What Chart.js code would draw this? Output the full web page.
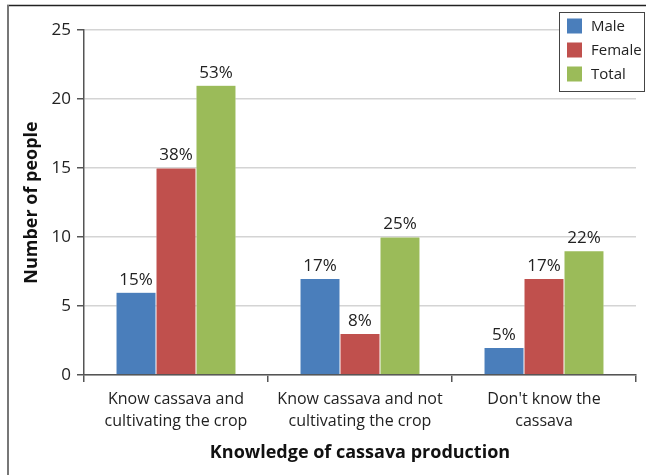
<!DOCTYPE html>
<html>
<head>
<meta charset="utf-8">
<script src="https://cdn.jsdelivr.net/npm/chart.js@4.4.1/dist/chart.umd.min.js"></script>
<style>
  html, body { margin: 0; padding: 0; background: #fff; }
  #wrap { position: relative; width: 646px; height: 475px; }
</style>
</head>
<body>
<div id="wrap"><canvas id="knowledgeChart" width="646" height="475"></canvas></div>
<script>
// Data
const categories = [
    ['Know cassava and', 'cultivating the crop'],
    ['Know cassava and not', 'cultivating the crop'],
    ["Don't know the", 'cassava']
];
const maleValues = [6, 7, 2];
const femaleValues = [15, 3, 7];
const totalValues = [21, 10, 9];
const malePercent = ['15%', '17%', '5%'];
const femalePercent = ['38%', '8%', '17%'];
const totalPercent = ['53%', '25%', '22%'];
const yTicks = [0, 5, 10, 15, 20, 25];

const FONT = "'Open Sans', 'DejaVu Sans', sans-serif";

// white background + the cropped frame lines (top and left)
const framePlugin = {
    id: 'frame',
    beforeDraw(chart) {
        const c = chart.ctx;
        c.save();
        c.fillStyle = '#fff';
        c.fillRect(0, 0, chart.width, chart.height);
        c.strokeStyle = '#222';
        c.lineWidth = 1.5;
        c.beginPath();
        c.moveTo(7, 5.5);
        c.lineTo(chart.width, 5.5);
        c.stroke();
        c.strokeStyle = '#777';
        c.lineWidth = 2;
        c.beginPath();
        c.moveTo(8, 5);
        c.lineTo(8, chart.height);
        c.stroke();
        c.restore();
    }
};

// percentage labels above each bar
const percentLabels = {
    id: 'percentLabels',
    afterDatasetsDraw(chart) {
        const c = chart.ctx;
        c.save();
        c.font = '17px ' + FONT;
        c.fillStyle = '#222';
        c.textAlign = 'center';
        c.textBaseline = 'bottom';
        chart.data.datasets.forEach((ds, i) => {
            chart.getDatasetMeta(i).data.forEach((bar, j) => {
                c.fillText(ds.percents[j], bar.x, bar.y - 4);
            });
        });
        c.restore();
    }
};

// boxed legend in the top-right corner
const boxLegend = {
    id: 'boxLegend',
    afterDraw(chart) {
        const c = chart.ctx;
        const x = 559, y = 12, w = 86, h = 80;
        c.save();
        c.fillStyle = '#fff';
        c.fillRect(x, y, w, h);
        c.strokeStyle = '#444';
        c.lineWidth = 1;
        c.strokeRect(x + 0.5, y + 0.5, w - 1, h - 1);
        c.font = '15px ' + FONT;
        c.textBaseline = 'middle';
        chart.data.datasets.forEach((ds, i) => {
            const cy = 26 + i * 24;
            c.fillStyle = ds.backgroundColor;
            c.fillRect(567, cy - 7.5, 15, 15);
            c.fillStyle = '#222';
            c.fillText(ds.label, 591, cy + 1);
        });
        c.restore();
    }
};

document.addEventListener('DOMContentLoaded', function() {
    const ctx = document.getElementById('knowledgeChart');
    new Chart(ctx, {
        type: 'bar',
        data: {
            labels: categories,
            datasets: [
                { label: 'Male', data: maleValues, percents: malePercent, backgroundColor: '#4a7ebb' },
                { label: 'Female', data: femaleValues, percents: femalePercent, backgroundColor: '#c0504d' },
                { label: 'Total', data: totalValues, percents: totalPercent, backgroundColor: '#9bbb59' }
            ]
        },
        options: {
            responsive: false,
            animation: false,
            devicePixelRatio: 1,
            layout: { padding: { top: 30, right: 10, left: 0, bottom: 0 } },
            datasets: {
                bar: {
                    categoryPercentage: 0.652,
                    barPercentage: 1,
                    borderWidth: 0.5,
                    borderColor: 'rgba(255,255,255,0.5)'
                }
            },
            plugins: {
                legend: { display: false },
                tooltip: { enabled: false }
            },
            scales: {
                x: {
                    offset: true,
                    grid: {
                        offset: true,
                        drawOnChartArea: false,
                        drawTicks: true,
                        tickLength: 7,
                        color: '#555',
                        lineWidth: 1.5
                    },
                    border: { color: '#555', width: 1.5 },
                    ticks: {
                        color: '#222',
                        font: { family: FONT, size: 16, lineHeight: 1.38 },
                        padding: 6,
                        maxRotation: 0,
                        autoSkip: false
                    },
                    title: {
                        display: true,
                        text: 'Knowledge of cassava production',
                        color: '#111',
                        font: { family: FONT, size: 18, weight: 'bold' },
                        padding: { top: 0, bottom: 11 }
                    },
                    afterFit(scale) { scale.height = 100; }
                },
                y: {
                    min: 0,
                    max: 25,
                    afterBuildTicks(scale) { scale.ticks = yTicks.map(v => ({ value: v })); },
                    grid: {
                        color: '#d4d4d4',
                        lineWidth: 1.5,
                        tickColor: '#555',
                        tickLength: 7
                    },
                    border: { color: '#555', width: 1.5 },
                    ticks: {
                        color: '#222',
                        font: { family: FONT, size: 17 },
                        padding: 6
                    },
                    title: {
                        display: true,
                        text: 'Number of people',
                        color: '#111',
                        font: { family: FONT, size: 18, weight: 'bold' },
                        padding: { top: 21, bottom: 0 }
                    },
                    afterFit(scale) { scale.width = 84; }
                }
            }
        },
        plugins: [framePlugin, percentLabels, boxLegend]
    });
});
</script>
</body>
</html>
